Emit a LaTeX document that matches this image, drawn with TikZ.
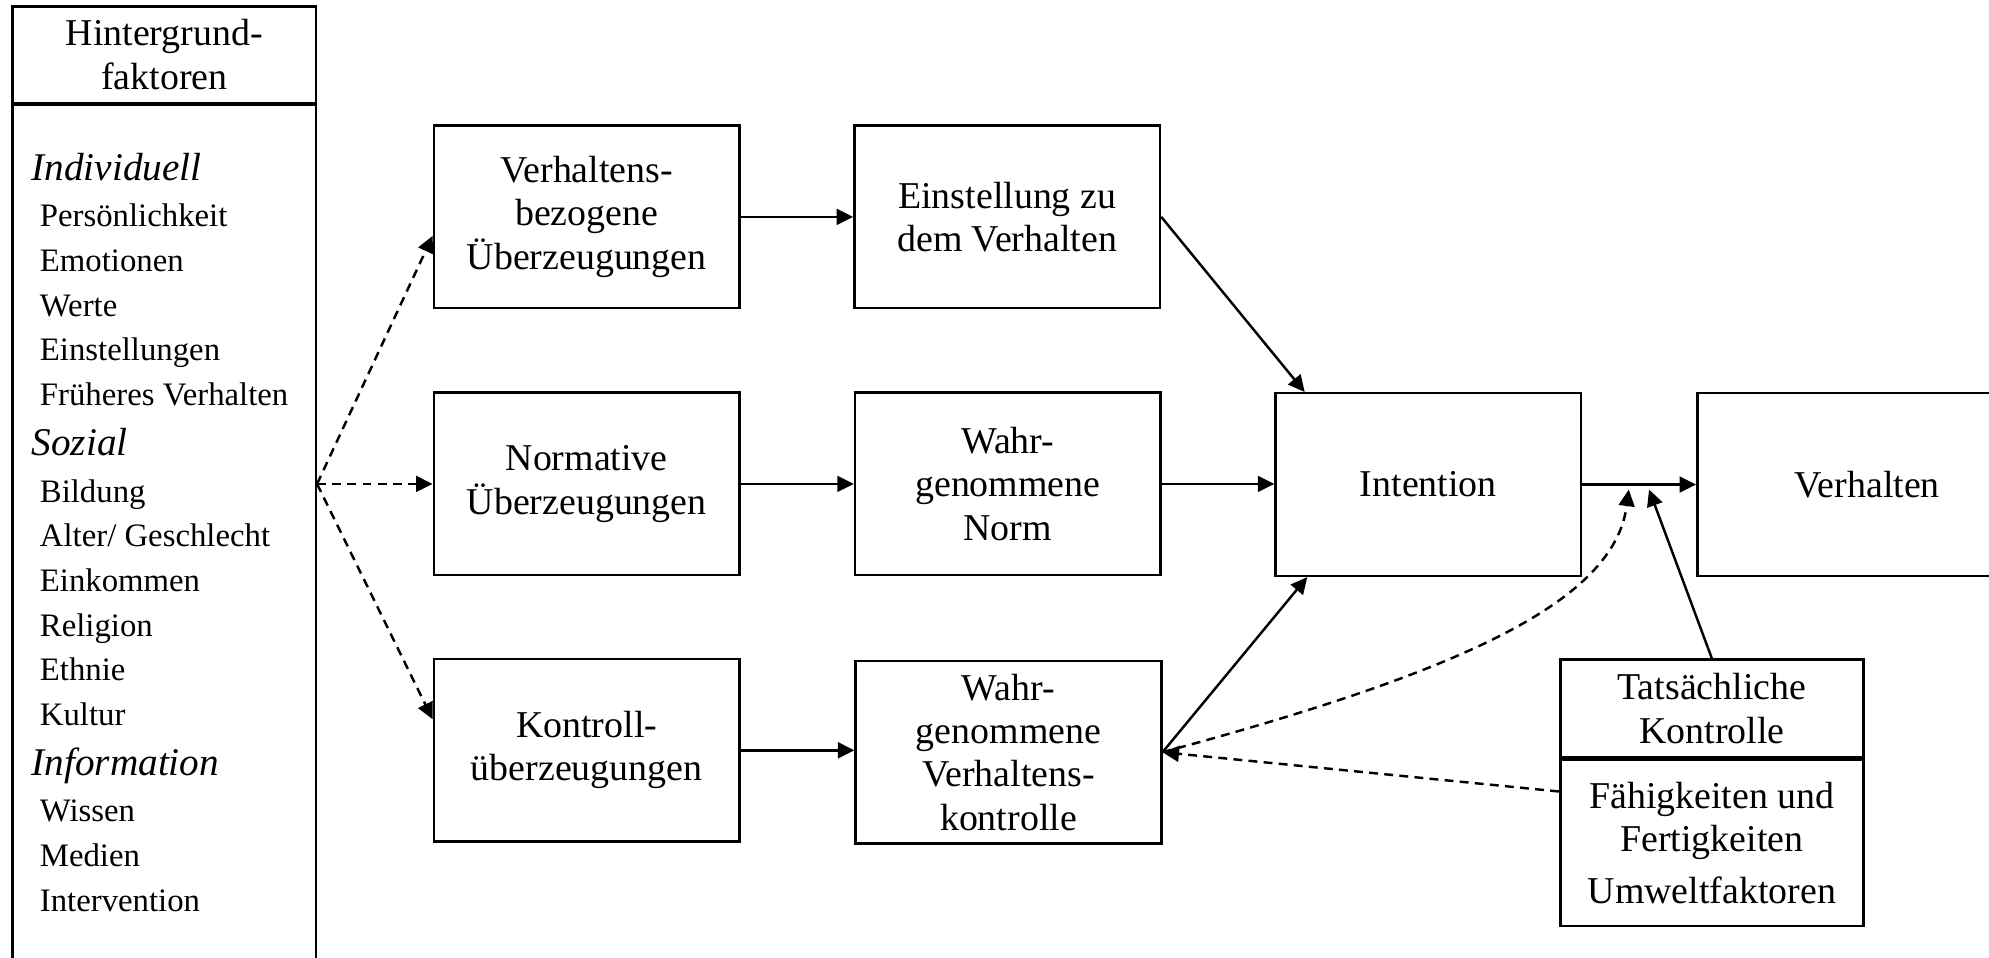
\documentclass[tikz,border=0pt]{standalone}
\usepackage{fontspec}
\setmainfont{Liberation Serif}
\usetikzlibrary{arrows.meta,positioning}

\begin{document}
\begin{tikzpicture}[
    >={Triangle[length=2.6mm,width=2.5mm]},
    line width=1.1pt,
    block/.style={
        draw,
        align=center,
        minimum width=4.82cm,
        minimum height=2.88cm,
        inner sep=2pt,
        font=\fontsize{17}{19.4}\selectfont
    },
    listhead/.style={anchor=base west, inner sep=0pt,
        font=\fontsize{17.6}{20}\selectfont\itshape},
    listitem/.style={anchor=base west, inner sep=0pt,
        font=\fontsize{14.7}{17}\selectfont},
    link/.style={->},
    dashlink/.style={->, dash pattern=on 4pt off 2.8pt}
]

\useasboundingbox (0,0) rectangle (31.36,15.1);

% --------------------------------------------------
% Hintergrundfaktoren
% --------------------------------------------------

\node[block, minimum width=4.78cm, minimum height=1.52cm] (hghead) at (2.59,14.24)
    {Hintergrund-\\faktoren};

\node[block, minimum width=4.78cm, minimum height=14cm, anchor=north] (hgbody)
    at (hghead.south) {};

\node[listhead] (indiv) at (0.48,12.26) {Individuell};
\foreach \txt [count=\i] in {Persönlichkeit,Emotionen,Werte,Einstellungen,Früheres Verhalten}
{
    \node[listitem] (indiv-\i) at (0.61,{12.23-0.705*\i}) {\txt};
}

\node[listhead] (sozial) at (0.48,7.92) {Sozial};
\foreach \txt [count=\i] in {Bildung,Alter/ Geschlecht,Einkommen,Religion,Ethnie,Kultur}
{
    \node[listitem] (sozial-\i) at (0.61,{7.89-0.705*\i}) {\txt};
}

\node[listhead] (info) at (0.48,2.88) {Information};
\foreach \txt [count=\i] in {Wissen,Medien,Intervention}
{
    \node[listitem] (info-\i) at (0.61,{2.85-0.705*\i}) {\txt};
}

% --------------------------------------------------
% Ueberzeugungen und Wahrnehmungen
% --------------------------------------------------

\node[block] (vbez) at (9.25,11.68)
    {Verhaltens-\\bezogene\\Überzeugungen};

\node[block] (einst) at (15.88,11.68)
    {Einstellung zu\\dem Verhalten};

\node[block] (normue) at (9.25,7.47)
    {Normative\\Überzeugungen};

\node[block] (wnorm) at (15.89,7.47)
    {Wahr-\\genommene\\Norm};

\node[block] (kontrue) at (9.25,3.27)
    {Kontroll-\\überzeugungen};

\node[block] (wvk) at (15.90,3.24)
    {Wahr-\\genommene\\Verhaltens-\\kontrolle};

% --------------------------------------------------
% Intention, Verhalten, Kontrolle
% --------------------------------------------------

\node[block] (intent) at (22.52,7.46) {Intention};

\node[block, minimum width=5.36cm] (verh) at (29.44,7.46) {Verhalten};

\node[block, minimum width=4.78cm, minimum height=1.54cm] (tkhead) at (26.99,3.93)
    {Tatsächliche\\Kontrolle};

\node[block, minimum width=4.78cm, minimum height=2.62cm, anchor=north] (tkbody)
    at (tkhead.south) {Fähigkeiten und\\Fertigkeiten\\[4pt]Umweltfaktoren};

% --------------------------------------------------
% Connectors
% --------------------------------------------------

\coordinate (src) at (hgbody.east |- normue.west);
\coordinate (modA) at (25.68,7.38);
\coordinate (modB) at (26.0,7.38);

\draw[dashlink] (src) -- ([yshift=-0.3cm]vbez.west);
\draw[dashlink] (src) -- (normue.west);
\draw[dashlink] (src) -- ([yshift=0.49cm]kontrue.west);

\draw[link] (vbez) -- (einst);
\draw[link] (normue) -- (wnorm);
\draw[link] (kontrue.east) -- (kontrue.east -| wvk.west);

\draw[link] (einst.east) -- ([xshift=0.48cm]intent.north west);
\draw[link] (wnorm.east) -- (wnorm.east -| intent.west);
\draw[link] (wvk.east) -- ([xshift=0.52cm]intent.south west);
\draw[link] (intent) -- (verh);

\draw[link] (tkhead.north) -- (modB);
\draw[dashlink] (wvk.east) .. controls (23.0,4.5) and (25.45,5.6) .. (modA);
\draw[dashlink] ([yshift=-0.52cm]tkbody.north west) -- (wvk.east);

\end{tikzpicture}
\end{document}
